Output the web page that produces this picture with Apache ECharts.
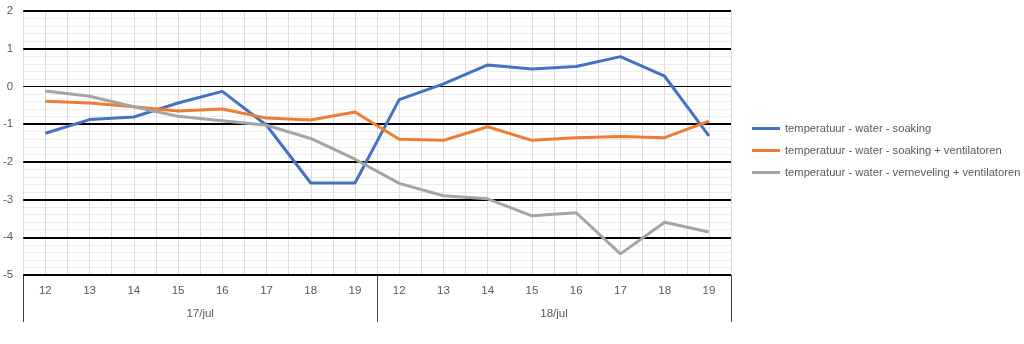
<!DOCTYPE html>
<html>
<head>
<meta charset="utf-8">
<script src="https://cdn.jsdelivr.net/npm/echarts@6/dist/echarts.min.js"></script>
<style>
  html, body { margin: 0; padding: 0; background: #fff; }
  #chart { width: 1024px; height: 344px; }
</style>
</head>
<body>
<div id="chart"></div>
<script>
// Hours of the day, measured on two consecutive days
const days = ['17/jul', '18/jul'];
const hours = ['12', '13', '14', '15', '16', '17', '18', '19'];

const seriesNames = [
  'temperatuur - water - soaking',
  'temperatuur - water - soaking + ventilatoren',
  'temperatuur - water - verneveling + ventilatoren'
];

const soaking = [-1.24, -0.88, -0.81, -0.44, -0.13, -1.03, -2.56, -2.56,
                 -0.35, 0.07, 0.57, 0.46, 0.53, 0.79, 0.27, -1.31];
const soakingVent = [-0.39, -0.44, -0.54, -0.65, -0.60, -0.84, -0.89, -0.68,
                     -1.40, -1.43, -1.07, -1.43, -1.36, -1.33, -1.36, -0.92];
const vernevelingVent = [-0.12, -0.26, -0.54, -0.79, -0.91, -1.03, -1.38, -1.93,
                         -2.57, -2.90, -2.98, -3.43, -3.35, -4.44, -3.60, -3.86];

const yTicks = [-5, -4, -3, -2, -1, 0, 1, 2];

const colors = ['#4472C4', '#ED7D31', '#A5A5A5'];
const textColor = '#595959';
const font = 'Liberation Sans';

// one category per (day, hour) pair
const categories = [];
days.forEach(d => hours.forEach(h => categories.push(d + ' ' + h)));

const chart = echarts.init(document.getElementById('chart'), null, { renderer: 'canvas' });

const lineSeries = [soaking, soakingVent, vernevelingVent].map((vals, i) => ({
  name: seriesNames[i],
  type: 'line',
  xAxisIndex: 0,
  data: vals,
  showSymbol: false,
  symbol: 'none',
  lineStyle: { color: colors[i], width: 3 },
  itemStyle: { color: colors[i] },
  z: 5,
  silent: true
}));

// heavy horizontal lines at the whole degrees (thin at zero)
const majorLines = {
  name: 'major',
  type: 'line',
  xAxisIndex: 0,
  data: [],
  z: 2,
  silent: true,
  markLine: {
    silent: true,
    symbol: 'none',
    label: { show: false },
    animation: false,
    data: yTicks.map(v => ({
      yAxis: v,
      lineStyle: { color: '#000', width: v === 0 ? 1 : 2, type: 'solid' }
    }))
  }
};

chart.setOption({
  animation: false,
  backgroundColor: '#fff',
  grid: { left: 22, right: 293, top: 11, bottom: 69 },
  legend: {
    data: seriesNames,
    orient: 'vertical',
    left: 752,
    top: 123,
    padding: 0,
    itemWidth: 28,
    itemHeight: 3,
    itemGap: 11,
    icon: 'rect',
    textStyle: { color: textColor, fontSize: 11.2, fontFamily: font },
    selectedMode: false
  },
  xAxis: [
    {
      type: 'category',
      data: categories,
      boundaryGap: true,
      axisLine: { show: false },
      axisTick: { show: false },
      axisLabel: {
        color: textColor, fontSize: 11.5, fontFamily: font, margin: 10,
        interval: 0,
        formatter: v => v.split(' ')[1]
      },
      splitLine: { show: false }
    },
    {
      type: 'category',
      data: days,
      position: 'bottom',
      boundaryGap: true,
      axisLine: { show: false },
      axisTick: { show: true, length: 47, lineStyle: { color: '#404040', width: 1 } },
      axisLabel: { color: textColor, fontSize: 11.5, fontFamily: font, margin: 33 },
      splitLine: { show: false }
    },
    {
      // light vertical grid every half category
      type: 'value',
      min: 0,
      max: categories.length,
      interval: 0.5,
      show: true,
      axisLine: { show: false },
      axisTick: { show: false },
      axisLabel: { show: false },
      splitLine: { show: true, lineStyle: { color: '#dcdcdc', width: 1 } }
    }
  ],
  yAxis: {
    type: 'value',
    min: -5,
    max: 2,
    interval: 1,
    axisLine: { show: false },
    axisTick: { show: false },
    axisLabel: { color: textColor, fontSize: 11.5, fontFamily: font, margin: 10 },
    splitLine: { show: false },
    minorTick: { show: false, splitNumber: 5 },
    minorSplitLine: { show: true, lineStyle: { color: '#ededed', width: 1 } }
  },
  series: [majorLines].concat(lineSeries)
});
</script>
</body>
</html>
